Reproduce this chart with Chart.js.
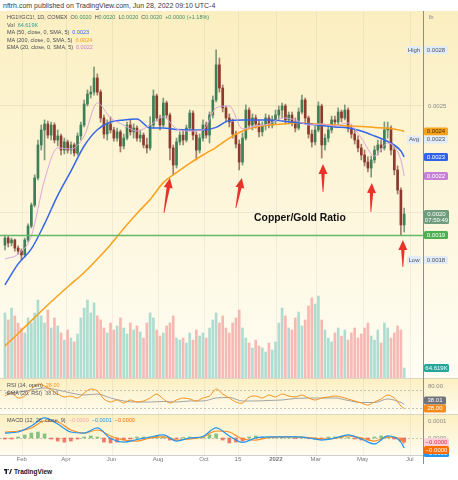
<!DOCTYPE html>
<html>
<head>
<meta charset="utf-8">
<title>Copper/Gold Ratio</title>
<script src="https://cdn.jsdelivr.net/npm/chart.js@4.4.1/dist/chart.umd.min.js"></script>
<style>
  body { margin: 0; width: 458px; height: 480px; background: #ffffff; position: relative; overflow: hidden; font-family: "Liberation Sans", Arial, sans-serif; }
  canvas { position: absolute; left: 0; }
  .txt { position: absolute; white-space: nowrap; font-size: 5.5px; line-height: 7px; color: #4a4d55; }
  .txt span { margin-left: 3px; }
  .txt span span { margin-left: 0; }
</style>
</head>
<body>
<canvas id="mainChart" width="458" height="367" style="top:11px"></canvas>
<canvas id="rsiChart" width="458" height="36" style="top:378px"></canvas>
<canvas id="macdChart" width="458" height="50" style="top:414px"></canvas>
<div class="txt" style="left:3px;top:1.5px;font-size:7px;color:#3a3a3a">nftrh.com published on TradingView.com, Jun 28, 2022 09:10 UTC-4</div>
<div class="txt" style="left:4px;top:468px;font-size:6.5px;font-weight:bold;color:#131722"><svg width="8" height="5" viewBox="0 0 16 10" style="vertical-align:0;margin-right:2px"><path d="M0 0h6v10H3V3H0z M7 0h2.5v2.5H7z M10 10l3.5-10H16l-3.5 10z" fill="#131722"/></svg>TradingView</div>
<script>
Chart.defaults.font.family = '"Liberation Sans", Arial, sans-serif';

// HG1!/GC1! bars (each about 3 sessions), price in millionths of the ratio (2500 = 0.0025)
const opens = [
  1850, 1883, 1860, 1874, 1836, 1822, 1804, 1874, 1939, 2037,
  2164, 2318, 2388, 2416, 2364, 2411, 2341, 2360, 2294, 2332,
  2294, 2318, 2280, 2360, 2411, 2509, 2556, 2565, 2631, 2565,
  2444, 2369, 2416, 2388, 2350, 2379, 2313, 2350, 2411, 2379,
  2397, 2350, 2364, 2318, 2304, 2411, 2547, 2444, 2411, 2514,
  2458, 2304, 2224, 2332, 2364, 2341, 2397, 2467, 2364, 2294,
  2350, 2411, 2364, 2458, 2528, 2692, 2584, 2491, 2444, 2425,
  2369, 2322, 2238, 2350, 2481, 2411, 2444, 2416, 2379, 2407,
  2444, 2411, 2435, 2458, 2481, 2500, 2435, 2458, 2425, 2397,
  2472, 2528, 2444, 2369, 2332, 2388, 2500, 2318, 2350, 2388,
  2435, 2425, 2472, 2444, 2481, 2397, 2369, 2341, 2304, 2271,
  2238, 2210, 2248, 2294, 2318, 2304, 2388, 2397, 2294, 2201,
  2107, 1944
];
const highs = [
  1897, 1893, 1883, 1878, 1846, 1832, 1883, 1949, 2047, 2178,
  2341, 2411, 2435, 2430, 2425, 2421, 2388, 2369, 2350, 2341,
  2332, 2327, 2374, 2425, 2528, 2575, 2593, 2682, 2650, 2575,
  2458, 2435, 2449, 2402, 2397, 2388, 2369, 2425, 2435, 2416,
  2407, 2388, 2374, 2350, 2449, 2575, 2556, 2458, 2537, 2523,
  2467, 2318, 2350, 2379, 2388, 2411, 2481, 2477, 2379, 2369,
  2435, 2425, 2472, 2547, 2762, 2724, 2598, 2500, 2463, 2439,
  2383, 2341, 2374, 2505, 2491, 2463, 2458, 2435, 2425, 2463,
  2458, 2453, 2481, 2500, 2514, 2509, 2472, 2472, 2444, 2491,
  2551, 2537, 2453, 2388, 2407, 2519, 2509, 2369, 2402, 2453,
  2453, 2491, 2481, 2505, 2491, 2411, 2388, 2360, 2322, 2294,
  2262, 2266, 2313, 2341, 2341, 2425, 2425, 2407, 2313, 2220,
  2117, 2023
];
const lows = [
  1827, 1841, 1846, 1822, 1808, 1780, 1794, 1864, 1930, 2028,
  2154, 2294, 2248, 2350, 2341, 2327, 2313, 2271, 2276, 2280,
  2276, 2266, 2271, 2341, 2402, 2500, 2537, 2551, 2551, 2425,
  2350, 2341, 2374, 2336, 2336, 2285, 2299, 2341, 2364, 2350,
  2336, 2332, 2304, 2280, 2294, 2397, 2430, 2388, 2402, 2444,
  2248, 2178, 2210, 2318, 2318, 2332, 2388, 2341, 2248, 2280,
  2336, 2350, 2327, 2444, 2519, 2565, 2472, 2425, 2402, 2350,
  2304, 2201, 2224, 2341, 2397, 2388, 2397, 2355, 2360, 2388,
  2397, 2397, 2416, 2435, 2444, 2416, 2416, 2407, 2379, 2388,
  2463, 2425, 2350, 2308, 2318, 2379, 2257, 2294, 2332, 2374,
  2402, 2411, 2425, 2435, 2379, 2350, 2322, 2285, 2248, 2220,
  2192, 2168, 2234, 2271, 2285, 2294, 2350, 2271, 2178, 2089,
  1897, 1911
];
const closes = [
  1883, 1860, 1874, 1836, 1822, 1804, 1874, 1939, 2037, 2164,
  2318, 2388, 2416, 2364, 2411, 2341, 2360, 2294, 2332, 2294,
  2318, 2280, 2360, 2411, 2509, 2556, 2565, 2631, 2565, 2444,
  2369, 2416, 2388, 2350, 2379, 2313, 2350, 2411, 2379, 2397,
  2350, 2364, 2318, 2304, 2411, 2547, 2444, 2411, 2514, 2458,
  2304, 2224, 2332, 2364, 2341, 2397, 2467, 2364, 2294, 2350,
  2411, 2364, 2458, 2528, 2692, 2584, 2491, 2444, 2425, 2369,
  2322, 2238, 2350, 2481, 2411, 2444, 2416, 2379, 2407, 2444,
  2411, 2435, 2458, 2481, 2500, 2435, 2458, 2425, 2397, 2472,
  2528, 2444, 2369, 2332, 2388, 2500, 2318, 2350, 2388, 2435,
  2425, 2472, 2444, 2481, 2397, 2369, 2341, 2304, 2271, 2238,
  2210, 2248, 2294, 2318, 2304, 2388, 2397, 2294, 2201, 2107,
  1944, 1995
];
// volume, thousands
const volumes = [
  420, 375, 452, 401, 355, 323, 291, 388, 355, 420,
  504, 401, 355, 439, 323, 388, 336, 291, 245, 310,
  258, 233, 284, 388, 452, 504, 420, 485, 401, 375,
  323, 291, 355, 310, 336, 388, 323, 284, 355, 310,
  336, 297, 258, 355, 420, 388, 310, 271, 291, 336,
  355, 401, 258, 245, 258, 226, 291, 245, 310, 271,
  291, 258, 323, 375, 420, 355, 401, 323, 291, 355,
  388, 439, 323, 258, 226, 194, 245, 207, 194, 168,
  226, 181, 233, 355, 452, 401, 323, 310, 388, 426,
  336, 375, 465, 517, 478, 530, 375, 310, 258, 233,
  291, 323, 271, 310, 245, 291, 323, 258, 284, 323,
  355, 271, 245, 310, 226, 355, 323, 258, 291, 336,
  310, 64.619
];

// indicators read every 4th bar
const maIdx = [0, 4, 8, 12, 16, 20, 24, 28, 32, 36, 40, 44, 48, 52, 56, 60, 64, 68, 72, 76, 80, 84, 88, 92, 96, 100, 104, 108, 112, 116, 120, 121];
const ma50 = [1664, 1762, 1832, 1949, 2082, 2196, 2313, 2389, 2425, 2435, 2439, 2397, 2397, 2390, 2388, 2388, 2400, 2432, 2435, 2435, 2435, 2430, 2423, 2416, 2409, 2402, 2397, 2383, 2360, 2334, 2290, 2262];
const ma200 = [1379, 1437, 1497, 1556, 1613, 1668, 1722, 1785, 1852, 1928, 1998, 2063, 2142, 2189, 2232, 2271, 2307, 2350, 2383, 2402, 2411, 2416, 2420, 2418, 2414, 2411, 2407, 2404, 2400, 2396, 2386, 2381];
const ema20 = [1785, 1808, 1893, 2154, 2304, 2299, 2360, 2514, 2444, 2411, 2383, 2411, 2449, 2393, 2383, 2388, 2491, 2500, 2393, 2407, 2416, 2444, 2435, 2411, 2416, 2407, 2421, 2350, 2266, 2327, 2248, 2173];
const rsiEma = [63.8, 66, 70.8, 75.4, 70.8, 63.8, 59.2, 61.5, 52.3, 45.4, 43, 43, 44.3, 43, 45.4, 45.4, 52.3, 53.4, 45.4, 45.4, 46.6, 47.7, 51.1, 52.3, 52.3, 52.3, 46.6, 41.9, 41.9, 50, 41.9, 38.01];
// MACD in millionths
const macdLine = [29, 35, 71, 118, 82, 35, 29, 59, -3, -24, -9, 6, 18, -18, 0, 9, 59, 12, -26, 0, 6, 6, 6, 0, -12, 0, 18, -6, -35, 12, -24, -59];
const signalLine = [35, 41, 59, 100, 94, 47, 29, 47, 12, -12, -18, 0, 6, -12, -6, 6, 41, 35, -6, -12, 3, 6, 6, 3, -6, -3, 12, 0, -18, 6, -6, -35];

// read every 2nd bar
const rsiIdx = [0, 2, 4, 6, 8, 10, 12, 14, 16, 18, 20, 22, 24, 26, 28, 30, 32, 34, 36, 38, 40, 42, 44, 46, 48, 50, 52, 54, 56, 58, 60,
  62, 64, 66, 68, 70, 72, 74, 76, 78, 80, 82, 84, 86, 88, 90, 92, 94, 96, 98, 100, 102, 104, 106, 108, 110, 112, 114, 116, 118, 120, 121];
const rsi = [56.9, 63.8, 52.3, 56.9, 73.1, 84.6, 80, 70.8, 61.5, 54.6, 56.9, 52.3, 63.8, 73.1, 68.5, 50, 43, 47.7, 40.7, 47.7,
  43, 45.4, 52.3, 61.5, 50, 40.7, 47.7, 52.3, 50, 45.4, 52.3, 56.9, 73.1, 61.5, 52.3, 43, 40.7, 54.6, 56.9, 52.3,
  59.2, 54.6, 61.5, 56.9, 54.6, 59.2, 52.3, 47.7, 52.3, 54.6, 56.9, 54.6, 50, 45.4, 40.7, 36.1, 43, 50, 59.2, 52.3, 33.8, 28.00];
const macdHist = [-6, -6, 6, 18, 29, 35, 24, -6, -18, -24, -18, -6, 6, 12, 6, -24, -29, -24, -12, -6,
  6, 6, 6, 12, 6, -12, -6, 3, 6, 3, 6, 18, 24, -12, -29, -24, -18, 6, 12, 6,
  3, 3, 6, 3, -3, 3, -3, -6, -6, 6, 6, 6, 3, -6, -12, -12, 6, 12, 6, -6, -18, -24];

const timeTickIdx = [5.1, 18.5, 32.3, 46.4, 60.3, 70.6, 82.1, 94.2, 108.4, 122.7];
const timeTickLabels = ['Feb', 'Apr', 'Jun', 'Aug', 'Oct', '15', '2022', 'Mar', 'May', 'Jul'];

const supportLevel = 1897;
// red arrows: bar index, price at the tip, shaft length, tail shift
const arrows = [[50, 2164, 35, -6], [71.8, 2164, 30, -6], [96.4, 2229, 28, 0], [111.2, 2140, 29, -1], [120.6, 1874, 27, 0]];
const note = { text: 'Copper/Gold Ratio', idx: 89.4, price: 1977 };

const FONT = '"Liberation Sans", Arial, sans-serif';
const fmt = v => (v / 1e6).toFixed(4).replace('-', '\u2212');
const pts = (idx, vals) => idx.map((x, k) => ({ x: x, y: vals[k] }));
const isUp = closes.map((c, i) => c >= opens[i]);

function tag(ctx, x, yc, w, h, bg, fg, text) {
  ctx.fillStyle = bg;
  ctx.beginPath();
  if (ctx.roundRect) ctx.roundRect(x, yc - h / 2, w, h, 1.5); else ctx.rect(x, yc - h / 2, w, h);
  ctx.fill();
  ctx.fillStyle = fg;
  ctx.textAlign = 'center';
  ctx.textBaseline = 'middle';
  ctx.fillText(text, x + w / 2, yc + 0.3);
}

const xAxis = { type: 'linear', min: -1.5, max: 126.7, offset: false, display: false };
const rightAxis = (min, max, ticks, cb, grid) => ({
  position: 'right', min: min, max: max,
  afterFit: s => { s.width = 35; s.paddingTop = 0; s.paddingBottom = 0; },
  afterBuildTicks: s => { s.ticks = ticks.map(v => ({ value: v })); },
  ticks: { callback: cb, color: '#8a8a8a', font: { size: 6 }, padding: 5 },
  grid: grid ? { color: 'rgba(60,60,60,0.07)', drawTicks: false } : { display: false, drawTicks: false },
  border: { color: '#8d8d8d' }
});
const common = pad => ({
  responsive: false, animation: false, events: [],
  layout: { padding: { left: 0, right: 0, top: 0, bottom: pad }, autoPadding: false },
  plugins: { legend: { display: false }, tooltip: { enabled: false } }
});

const paneBg = (top, bottom, sep) => ({
  id: 'paneBg',
  beforeDraw(chart) {
    const { ctx, chartArea: a } = chart;
    const g = ctx.createLinearGradient(0, a.top, 0, a.bottom);
    g.addColorStop(0, top);
    g.addColorStop(1, bottom);
    ctx.save();
    ctx.fillStyle = g;
    ctx.fillRect(0, a.top, chart.width, a.bottom - a.top);
    if (sep) {
      ctx.fillStyle = '#dcd6c2';
      ctx.fillRect(0, a.top, chart.width, 1);
    }
    ctx.restore();
  }
});
const vGrid = {
  id: 'vGrid',
  beforeDatasetsDraw(chart) {
    const { ctx, chartArea: a, scales: { x } } = chart;
    ctx.save();
    ctx.strokeStyle = 'rgba(90,90,90,0.07)';
    ctx.lineWidth = 1;
    timeTickIdx.forEach(v => {
      const px = Math.round(x.getPixelForValue(v)) + 0.5;
      ctx.beginPath(); ctx.moveTo(px, a.top); ctx.lineTo(px, a.bottom); ctx.stroke();
    });
    ctx.restore();
  }
};

// ---------- price pane ----------
const mainDecor = {
  id: 'mainDecor',
  afterDatasetsDraw(chart) {
    const { ctx, chartArea: a, scales: { x, y } } = chart;
    ctx.save();
    const ly = Math.round(y.getPixelForValue(supportLevel)) + 0.5;
    ctx.strokeStyle = '#62b966';
    ctx.lineWidth = 1.3;
    ctx.beginPath(); ctx.moveTo(a.left, ly); ctx.lineTo(a.right, ly); ctx.stroke();

    ctx.fillStyle = '#e8332a';
    arrows.forEach(([idx, price, len, shift]) => {
      const tx = x.getPixelForValue(idx), ty = y.getPixelForValue(price);
      const bx = tx + shift, by = ty + len;
      const L = Math.hypot(bx - tx, by - ty), ux = (bx - tx) / L, uy = (by - ty) / L;
      const nx = -uy, ny = ux;
      const hx = tx + ux * 10, hy = ty + uy * 10;
      ctx.beginPath();
      ctx.moveTo(tx, ty);
      ctx.lineTo(hx + nx * 4.5, hy + ny * 4.5);
      ctx.lineTo(hx + nx * 1.7, hy + ny * 1.7);
      ctx.lineTo(bx + nx * 0.4, by + ny * 0.4);
      ctx.lineTo(bx - nx * 0.4, by - ny * 0.4);
      ctx.lineTo(hx - nx * 1.7, hy - ny * 1.7);
      ctx.lineTo(hx - nx * 4.5, hy - ny * 4.5);
      ctx.closePath();
      ctx.fill();
    });

    ctx.font = 'bold 10.4px ' + FONT;
    ctx.fillStyle = '#111';
    ctx.textAlign = 'center';
    ctx.textBaseline = 'middle';
    ctx.fillText(note.text, x.getPixelForValue(note.idx), y.getPixelForValue(note.price));
    ctx.restore();
  },
  afterDraw(chart) {
    const { ctx, chartArea: a, scales: { y, yv } } = chart;
    const L = a.right + 1;
    ctx.save();
    ctx.font = '6px ' + FONT;
    ctx.fillStyle = '#8a8a8a';
    ctx.textAlign = 'left';
    ctx.textBaseline = 'middle';
    ctx.fillText('lb', L + 5, 6);

    const avg = closes.reduce((s, v) => s + v, 0) / closes.length;
    const info = { bg: '#e2ecf8', fg: '#50545c' };
    const tags = [
      { v: Math.max(...highs), ...info, side: 'High' },
      { v: ma200.at(-1), bg: '#f7a21b', fg: '#4a3000' },
      { v: avg, ...info, side: 'Avg' },
      { v: ma50.at(-1), bg: '#2f62e8', fg: '#ffffff' },
      { v: ema20.at(-1), bg: '#c57fd6', fg: '#ffffff' },
      { v: closes.at(-1), bg: '#6f9c7c', fg: '#ffffff', sub: '07:59:49' },
      { v: supportLevel, bg: '#4caf50', fg: '#ffffff' },
      { v: Math.min(...lows), ...info, side: 'Low' }
    ];
    tags.forEach(t => { t.py = y.getPixelForValue(t.v); });
    tags.sort((p, q) => p.py - q.py);
    let prev = -Infinity;
    tags.forEach(t => {
      if (t.py < prev + 8) t.py = prev + 8;
      prev = t.py + (t.sub ? 6 : 0);
    });
    tags.forEach(t => {
      if (t.sub) {
        ctx.fillStyle = t.bg;
        ctx.beginPath();
        if (ctx.roundRect) ctx.roundRect(L, t.py - 4, 25, 14, 1.5); else ctx.rect(L, t.py - 4, 25, 14);
        ctx.fill();
        ctx.fillStyle = t.fg;
        ctx.textAlign = 'center';
        ctx.fillText(fmt(t.v), L + 12.5, t.py + 0.3);
        ctx.fillText(t.sub, L + 12.5, t.py + 6.3);
      } else {
        tag(ctx, L, t.py, 24, 8, t.bg, t.fg, fmt(t.v));
      }
      if (t.side) tag(ctx, a.right - 16, t.py, 14, 8, t.bg, t.fg, t.side);
    });

    const vy = Math.min(yv.getPixelForValue(volumes.at(-1)), a.bottom - 4.5);
    tag(ctx, L, vy, 25, 8, '#26a69a', '#ffffff', volumes.at(-1).toFixed(3) + 'K');
    ctx.restore();
  }
};

new Chart(document.getElementById('mainChart'), {
  type: 'bar',
  data: {
    datasets: [
      { type: 'line', data: pts(maIdx, ema20), borderColor: '#d9a6dd', borderWidth: 1, pointRadius: 0, cubicInterpolationMode: 'monotone', order: 0 },
      { type: 'line', data: pts(maIdx, ma50), borderColor: '#3566e8', borderWidth: 1.5, pointRadius: 0, cubicInterpolationMode: 'monotone', order: 1 },
      { type: 'line', data: pts(maIdx, ma200), borderColor: '#f9a11b', borderWidth: 1.5, pointRadius: 0, cubicInterpolationMode: 'monotone', order: 2 },
      { data: opens.map((o, i) => ({ x: i, y: [o, closes[i]] })), backgroundColor: isUp.map(u => u ? '#3f7f58' : '#8c3a2e'),
        barThickness: 2, minBarLength: 1, grouped: false, order: 3 },
      { data: highs.map((h, i) => ({ x: i, y: [lows[i], h] })), backgroundColor: isUp.map(u => u ? 'rgba(70,115,85,0.7)' : 'rgba(130,70,60,0.7)'),
        barThickness: 1, grouped: false, order: 4 },
      { yAxisID: 'yv', data: volumes.map((v, i) => ({ x: i, y: v })), backgroundColor: isUp.map(u => u ? 'rgba(120,200,190,0.6)' : 'rgba(242,140,140,0.6)'),
        barThickness: 2, grouped: false, order: 5 }
    ]
  },
  options: {
    ...common(0),
    scales: {
      x: xAxis,
      y: rightAxis(1228.9, 2943.9, [2000, 2500], v => fmt(v), true),
      yv: { axis: 'y', display: false, min: 0, max: 2371 }
    }
  },
  plugins: [paneBg('#fbefc1', '#fffdf4', false), vGrid, mainDecor]
});

// ---------- RSI pane ----------
const rsiDecor = {
  id: 'rsiDecor',
  beforeDatasetsDraw(chart) {
    const { ctx, chartArea: a, scales: { y } } = chart;
    ctx.save();
    ctx.strokeStyle = '#c9c3b0';
    ctx.setLineDash([2, 2]);
    [70, 30].forEach(v => {
      const py = Math.round(y.getPixelForValue(v)) + 0.5;
      ctx.beginPath(); ctx.moveTo(a.left, py); ctx.lineTo(a.right, py); ctx.stroke();
    });
    ctx.restore();
  },
  afterDraw(chart) {
    const { ctx, chartArea: a, scales: { y } } = chart;
    ctx.save();
    ctx.font = '6px ' + FONT;
    const yr = y.getPixelForValue(rsi.at(-1));
    let ye = y.getPixelForValue(rsiEma.at(-1));
    if (yr - ye < 8) ye = yr - 8;
    tag(ctx, a.right + 1, ye, 22, 8, '#6f737c', '#ffffff', rsiEma.at(-1).toFixed(2));
    tag(ctx, a.right + 1, yr, 22, 8, '#f58a1f', '#ffffff', rsi.at(-1).toFixed(2));
    ctx.restore();
  }
};

new Chart(document.getElementById('rsiChart'), {
  type: 'line',
  data: {
    datasets: [
      { data: pts(rsiIdx, rsi), borderColor: '#f7931e', borderWidth: 1, pointRadius: 0, tension: 0.3, order: 0 },
      { data: pts(maIdx, rsiEma), borderColor: '#a3a3a3', borderWidth: 1, pointRadius: 0, cubicInterpolationMode: 'monotone', order: 1 }
    ]
  },
  options: {
    ...common(0),
    scales: {
      x: xAxis,
      y: rightAxis(15.33, 98.5, [80], v => v.toFixed(2), false)
    }
  },
  plugins: [paneBg('#fcefc0', '#fffcf1', true), vGrid, rsiDecor]
});

// ---------- MACD pane + time axis ----------
const macdDecor = {
  id: 'macdDecor',
  beforeDatasetsDraw(chart) {
    const { ctx, chartArea: a, scales: { y } } = chart;
    ctx.save();
    ctx.strokeStyle = '#c9c3b0';
    ctx.setLineDash([2, 2]);
    const py = Math.round(y.getPixelForValue(0)) + 0.5;
    ctx.beginPath(); ctx.moveTo(a.left, py); ctx.lineTo(a.right, py); ctx.stroke();
    ctx.restore();
  },
  afterDraw(chart) {
    const { ctx, chartArea: a, scales: { x, y } } = chart;
    ctx.save();
    ctx.fillStyle = '#cfcfcf';
    ctx.fillRect(0, a.bottom, a.right, 1);
    ctx.fillStyle = '#8d8d8d';
    ctx.fillRect(a.right, a.bottom, 1, chart.height - a.bottom);
    ctx.textAlign = 'center';
    ctx.textBaseline = 'middle';
    ctx.fillStyle = '#777';
    timeTickIdx.forEach((v, i) => {
      ctx.font = (timeTickLabels[i] === '2022' ? 'bold ' : '') + '6px ' + FONT;
      ctx.fillText(timeTickLabels[i], x.getPixelForValue(v), a.bottom + 4.5);
    });

    ctx.font = '6px ' + FONT;
    const yh = y.getPixelForValue(macdHist.at(-1));
    let ys = y.getPixelForValue(signalLine.at(-1));
    if (ys < yh + 8) ys = yh + 8;
    let ym = y.getPixelForValue(macdLine.at(-1));
    if (ym < ys + 3) ym = ys + 3;
    tag(ctx, a.right + 1, ym, 25, 8, '#2196f3', '#ffffff', fmt(macdLine.at(-1)));
    tag(ctx, a.right + 1, ys, 25, 8, '#ff6d00', '#ffffff', fmt(signalLine.at(-1)));
    tag(ctx, a.right + 1, yh, 25, 8, '#fbd0d6', '#e0304a', fmt(macdHist.at(-1)));
    ctx.restore();
  }
};

new Chart(document.getElementById('macdChart'), {
  type: 'bar',
  data: {
    datasets: [
      { type: 'line', data: pts(maIdx, macdLine), borderColor: '#2196f3', borderWidth: 1.2, pointRadius: 0, cubicInterpolationMode: 'monotone', order: 0 },
      { type: 'line', data: pts(maIdx, signalLine), borderColor: '#ff8a1e', borderWidth: 1.2, pointRadius: 0, cubicInterpolationMode: 'monotone', order: 1 },
      { data: pts(rsiIdx, macdHist), backgroundColor: macdHist.map(v => v >= 0 ? 'rgba(92,178,100,0.75)' : 'rgba(238,78,70,0.75)'),
        barThickness: 3, grouped: false, order: 2 }
    ]
  },
  options: {
    ...common(9),
    scales: {
      x: xAxis,
      y: rightAxis(-100, 141, [0, 100], v => fmt(v), false)
    }
  },
  plugins: [paneBg('#fcefc0', '#fffcf1', true), vGrid, macdDecor]
});

// ---------- legends ----------
function legendLine(top, html) {
  const d = document.createElement('div');
  d.className = 'txt';
  d.style.left = '7px';
  d.style.top = top + 'px';
  d.innerHTML = html;
  document.body.appendChild(d);
}
const G = '#3f8f68';
legendLine(14, 'HG1!/GC1!, 1D, COMEX'
  + '<span>O<span style="color:' + G + '">0.0020</span></span>'
  + '<span>H<span style="color:' + G + '">0.0020</span></span>'
  + '<span>L<span style="color:' + G + '">0.0020</span></span>'
  + '<span>C<span style="color:' + G + '">0.0020</span></span>'
  + '<span style="color:' + G + '">+0.0000 (+1.18%)</span>');
legendLine(21.5, 'Vol<span style="color:#26a69a">' + volumes.at(-1).toFixed(3) + 'K</span>');
legendLine(29, 'MA (50, close, 0, SMA, 5)<span style="color:#3566e8">' + fmt(ma50.at(-1)) + '</span>');
legendLine(36.5, 'MA (200, close, 0, SMA, 5)<span style="color:#f39a12">' + fmt(ma200.at(-1)) + '</span>');
legendLine(44, 'EMA (20, close, 0, SMA, 5)<span style="color:#c67ad2">' + fmt(ema20.at(-1)) + '</span>');
legendLine(381.5, 'RSI (14, open)<span style="color:#f7931e">' + rsi.at(-1).toFixed(2) + '</span>');
legendLine(389.5, 'EMA (20, RSI)<span style="color:#6f737c">' + rsiEma.at(-1).toFixed(2) + '</span>');
legendLine(416.5, 'MACD (12, 26, close, 9)<span style="color:#f3a9b6">' + fmt(macdHist.at(-1)) + '</span>'
  + '<span style="color:#2196f3">' + fmt(macdLine.at(-1)) + '</span>'
  + '<span style="color:#ff6d00">' + fmt(signalLine.at(-1)) + '</span>');
</script>
</body>
</html>
